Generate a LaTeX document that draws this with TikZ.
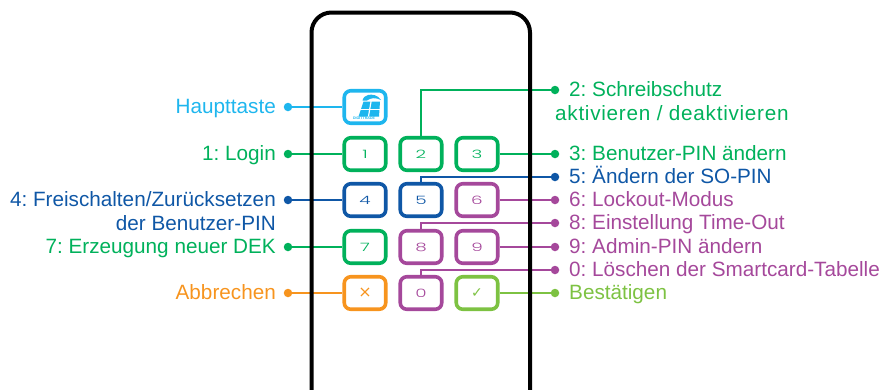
\documentclass[tikz,border=0pt]{standalone}
\usepackage{fontspec}
\setmainfont{Liberation Sans}
\newfontfamily\keyfont[FakeStretch=1.6]{Poppins Light}
\newfontfamily\symfont{DejaVu Sans}
\definecolor{cblue}{HTML}{1EB6EE}
\definecolor{cgreen}{HTML}{00B15B}
\definecolor{cdark}{HTML}{0F57A6}
\definecolor{cpurple}{HTML}{A5489B}
\definecolor{corange}{HTML}{F7941E}
\definecolor{clime}{HTML}{7DC242}
\tikzset{
 keybox/.style={draw=#1,text=#1,line width=3.6pt,rounded corners=6.5pt,minimum width=41.5pt,minimum height=32.5pt,inner sep=0pt,font=\keyfont\fontsize{11.5}{11.5}\selectfont},
 dotmark/.style={circle,fill=#1,minimum size=8.5pt,inner sep=0pt},
 lab/.style={text=#1,font=\fontsize{20.7}{22}\selectfont\frenchspacing,inner sep=0pt,text height=15.5pt,text depth=2.5pt},
 conn/.style={draw=#1,line width=1.8pt},
}
\begin{document}
\begin{tikzpicture}[x=1pt,y=-1pt]
\useasboundingbox (0,0) rectangle (883,389);
% keys
\node[keybox=cblue] (kh) at (365,107) {};
\node[keybox=cgreen] (k1) at (365,154) {1};
\node[keybox=cgreen] (k2) at (421,154) {2};
\node[keybox=cgreen] (k3) at (477,154) {3};
\node[keybox=cdark] (k4) at (365,200) {4};
\node[keybox=cdark] (k5) at (421,200) {5};
\node[keybox=cpurple] (k6) at (477,200) {6};
\node[keybox=cgreen] (k7) at (365,247) {7};
\node[keybox=cpurple] (k8) at (421,247) {8};
\node[keybox=cpurple] (k9) at (477,247) {9};
\node[keybox=corange,font=\symfont\fontsize{16}{16}\selectfont] (kx) at (365,293) {×};
\node[keybox=cpurple] (k0) at (421,293) {0};
\node[keybox=clime,font=\symfont\fontsize{14}{14}\selectfont] (kok) at (477,293) {✓};
% logo
\fill[cblue] (358.5,116.5) -- (363.5,101.5) -- (380,101.5) -- (379,116.5) -- cycle;
\fill[white] (360,109.2) rectangle (381,110.2);
\fill[white] (370.6,100.5) -- (371.8,100.5) -- (369,117) -- (367.8,117) -- cycle;
\fill[cblue] (362.5,100.5) .. controls (363.5,97) and (365,96) .. (368,95) .. controls (372,94) and (378,95) .. (381,100) .. controls (376,97.5) and (371,97.5) .. (367,100.5) -- cycle;
\node[text=cblue,font=\fontsize{3.6}{3.6}\selectfont\bfseries,inner sep=0pt] (logotext) at (364,118.5) {DIGITTRADE};
% dots
\node[dotmark=cblue] (dh) at (288,107) {};
\node[dotmark=cgreen] (d1) at (288,154) {};
\node[dotmark=cdark] (d4) at (288,200) {};
\node[dotmark=cgreen] (d7) at (288,247) {};
\node[dotmark=corange] (dx) at (288,293) {};
\node[dotmark=cgreen] (d2) at (555,90) {};
\node[dotmark=cgreen] (d3) at (555,154) {};
\node[dotmark=cdark] (d5) at (555,177) {};
\node[dotmark=cpurple] (d6) at (555,200) {};
\node[dotmark=cpurple] (d8) at (555,223) {};
\node[dotmark=cpurple] (d9) at (555,247) {};
\node[dotmark=cpurple] (d0) at (555,270) {};
\node[dotmark=clime] (dok) at (555,293) {};
% connectors
\draw[conn=cblue] (dh) -- (kh);
\draw[conn=cgreen] (d1) -- (k1);
\draw[conn=cdark] (d4) -- (k4);
\draw[conn=cgreen] (d7) -- (k7);
\draw[conn=corange] (dx) -- (kx);
\draw[conn=cgreen] (k3) -- (d3);
\draw[conn=cpurple] (k6) -- (d6);
\draw[conn=cpurple] (k9) -- (d9);
\draw[conn=clime] (kok) -- (dok);
\draw[conn=cgreen] (k2.north) |- (d2);
\draw[conn=cdark] (k5.north) |- (d5);
\draw[conn=cpurple] (k8.north) |- (d8);
\draw[conn=cpurple] (k0.north) |- (d0);
% case
\draw[black,line width=4pt,rounded corners=20pt] (311.5,400) -- (311.5,12.5) -- (530,12.5) -- (530,400);
% labels
\node[lab=cblue,anchor=east] (lh) at (276,107) {Haupttaste};
\node[lab=cgreen,anchor=east] (l1) at (276,154) {1: Login};
\node[lab=cdark,anchor=east] (l4) at (276,200) {4: Freischalten/Zurücksetzen};
\node[lab=cdark,anchor=east] (l4b) at (276,224) {der Benutzer-PIN};
\node[lab=cgreen,anchor=east] (l7) at (276,247) {7: Erzeugung neuer DEK};
\node[lab=corange,anchor=east] (lx) at (276,293) {Abbrechen};
\node[lab=cgreen,anchor=west] (l2) at (569,90) {2: Schreibschutz};
\node[lab=cgreen,anchor=west] (l2b) at (555,114) {\addfontfeature{LetterSpace=3.5}aktivieren / deaktivieren};
\node[lab=cgreen,anchor=west] (l3) at (569,154) {3: Benutzer-PIN ändern};
\node[lab=cdark,anchor=west] (l5) at (569,177) {5: Ändern der SO-PIN};
\node[lab=cpurple,anchor=west] (l6) at (569,200) {6: Lockout-Modus};
\node[lab=cpurple,anchor=west] (l8) at (569,223) {8: Einstellung Time-Out};
\node[lab=cpurple,anchor=west] (l9) at (569,247) {9: Admin-PIN ändern};
\node[lab=cpurple,anchor=west] (l0) at (569,270) {0: Löschen der Smartcard-Tabelle};
\node[lab=clime,anchor=west] (lok) at (569,293) {Bestätigen};
\end{tikzpicture}
\end{document}
